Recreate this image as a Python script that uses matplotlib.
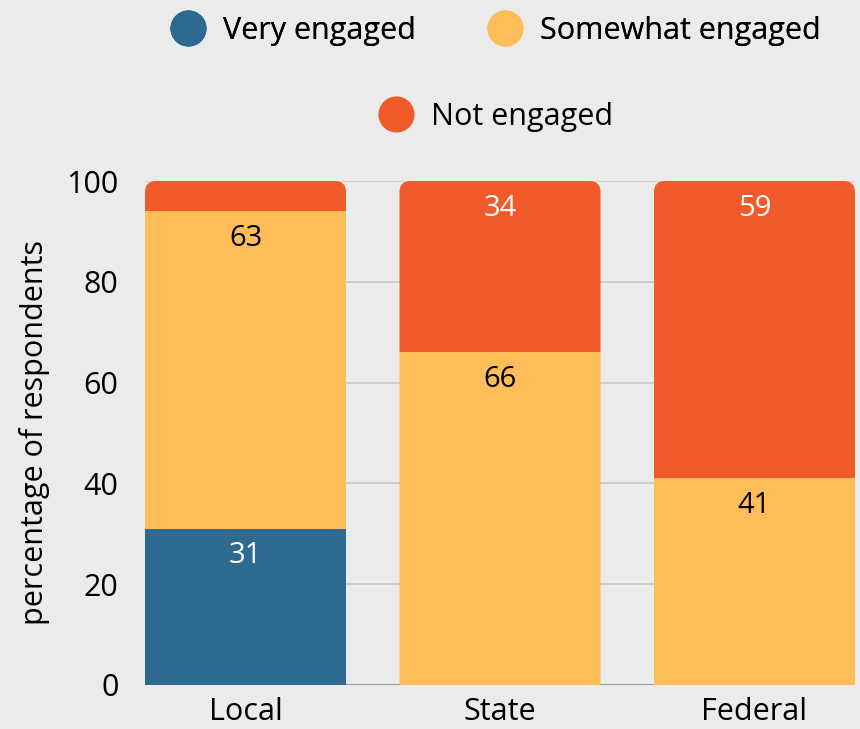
import numpy as np
import matplotlib.pyplot as plt
from matplotlib.patches import FancyBboxPatch
from matplotlib.lines import Line2D

plt.rcParams['font.family'] = ['Open Sans', 'DejaVu Sans']

# data
categories = ['Local', 'State', 'Federal']
very_engaged = [31, 0, 0]
somewhat_engaged = [63, 66, 41]
not_engaged = [6, 34, 59]
series_names = ['Very engaged', 'Somewhat engaged', 'Not engaged']
colors = ['#2e6a8f', '#febd59', '#f15a2b']
label_colors = ['white', 'black', 'white']
bg = '#ebebeb'

fig = plt.figure(figsize=(8.6, 7.29), dpi=100, facecolor=bg)
ax = fig.add_axes([0.1686, 0.0604, 0.8256, 0.6913])
ax.set_facecolor(bg)

x = np.arange(len(categories))
width = 0.79
series = [very_engaged, somewhat_engaged, not_engaged]

bottoms = np.zeros(len(categories))
all_bars = []
for vals, col, lc in zip(series, colors, label_colors):
    bars = ax.bar(x, vals, width, bottom=bottoms, color=col, zorder=3)
    all_bars.append(bars)
    for xi, v, b in zip(x, vals, bottoms):
        if v > 10:
            ax.annotate(str(v), (xi, b + v), xytext=(0, -9), textcoords='offset points',
                        ha='center', va='top', fontsize=21, color=lc, zorder=4)
    bottoms = bottoms + np.array(vals)

ax.set_xlim(-0.395, 2.395)
ax.set_ylim(0, 100)

# rounded top corners via clip path
fig.canvas.draw()
bb = ax.get_window_extent()
px_per_x = bb.width / (ax.get_xlim()[1] - ax.get_xlim()[0])
px_per_y = bb.height / (ax.get_ylim()[1] - ax.get_ylim()[0])
aspect = px_per_x / px_per_y
r = 11 / px_per_x
for i, xi in enumerate(x):
    clip = FancyBboxPatch((xi - width / 2, -30), width, 130,
                          boxstyle='round,pad=0,rounding_size=%f' % r,
                          mutation_aspect=aspect, transform=ax.transData)
    for bars in all_bars:
        bars[i].set_clip_path(clip)

ax.set_yticks([0, 20, 40, 60, 80, 100])
ax.yaxis.grid(True, color='#c8c8c8', linewidth=1.2, zorder=0)
ax.axhline(0, color='#9a9a9a', linewidth=1.5, zorder=2)
for s in ax.spines.values():
    s.set_visible(False)
ax.tick_params(axis='both', length=0, labelsize=22)
ax.tick_params(axis='y', pad=19)
ax.tick_params(axis='x', pad=9)
ax.set_xticks(x)
ax.set_xticklabels(categories)
ax.set_ylabel('percentage of respondents', fontsize=22, labelpad=12)

handles = [Line2D([], [], marker='o', linestyle='', markersize=25, color=c) for c in colors]
leg1 = fig.legend(handles[:2], series_names[:2], loc='center', bbox_to_anchor=(0.569, 0.958),
                  ncol=2, frameon=False, fontsize=22, handletextpad=0.15, columnspacing=1.9)
fig.add_artist(leg1)
fig.legend(handles[2:], series_names[2:], loc='center', bbox_to_anchor=(0.569, 0.84),
           ncol=1, frameon=False, fontsize=22, handletextpad=0.15)

fig.savefig('out.png', dpi=100, facecolor=bg)
